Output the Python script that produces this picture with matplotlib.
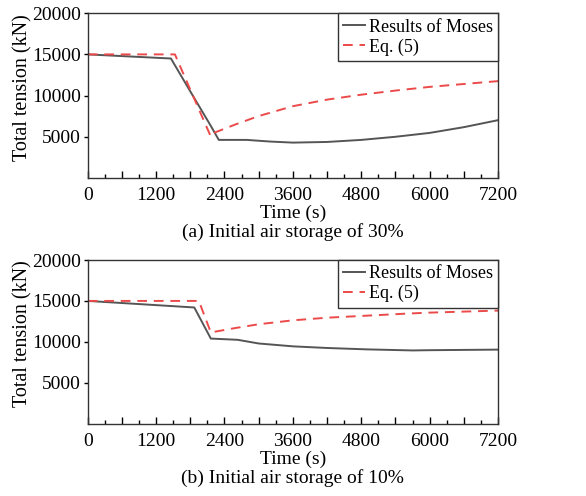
import matplotlib
matplotlib.use("Agg")
import matplotlib.pyplot as plt
from matplotlib.ticker import MultipleLocator, FuncFormatter

plt.rcParams['font.family'] = ['Liberation Serif', 'DejaVu Serif']
plt.rcParams['font.size'] = 14

# (a) initial air storage 30%
t_moses_a = [0, 1460, 1800, 2160, 2300, 2790, 3200, 3600, 4200, 4800, 5400, 6000, 6600, 7200]
f_moses_a = [15000, 14500, 10500, 6300, 4600, 4600, 4400, 4270, 4350, 4600, 4980, 5450, 6150, 7000]
t_eq_a = [0, 1530, 2160, 2230, 2600, 3000, 3600, 4200, 4800, 5400, 6000, 6600, 7200]
f_eq_a = [15000, 15000, 5000, 5500, 6500, 7500, 8700, 9500, 10100, 10600, 11050, 11400, 11750]

# (b) initial air storage 10%
t_moses_b = [0, 1870, 2160, 2630, 3000, 3600, 4200, 4900, 5700, 6000, 7200]
f_moses_b = [15000, 14200, 10400, 10250, 9800, 9450, 9250, 9080, 8950, 8980, 9050]
t_eq_b = [0, 1950, 2160, 2600, 3000, 3600, 4200, 4900, 5600, 6000, 7200]
f_eq_b = [15000, 15000, 11150, 11700, 12150, 12630, 12950, 13200, 13450, 13570, 13820]

captions = ["(a) Initial air storage of 30%", "(b) Initial air storage of 10%"]
series = [(t_moses_a, f_moses_a, t_eq_a, f_eq_a),
          (t_moses_b, f_moses_b, t_eq_b, f_eq_b)]

fig = plt.figure(figsize=(5.86, 4.96), dpi=100)
rects = [[0.1497, 0.6417, 0.7002, 0.3315], [0.1497, 0.1458, 0.7002, 0.330]]

for rect, (tm, fm, te, fe), cap in zip(rects, series, captions):
    ax = fig.add_axes(rect)
    ax.plot(tm, fm, color='#555555', lw=1.4, label='Results of Moses')
    ax.plot(te, fe, color='#ec4a4a', lw=1.4, ls=(0, (5, 3.5)), label='Eq. (5)')
    ax.set_xlim(0, 7200)
    ax.set_ylim(0, 20000)
    ax.xaxis.set_major_locator(MultipleLocator(600))
    ax.xaxis.set_minor_locator(MultipleLocator(300))
    ax.xaxis.set_major_formatter(FuncFormatter(lambda v, p: f"{int(v)}" if int(v) % 1200 == 0 else ""))
    ax.set_yticks([5000, 10000, 15000, 20000])
    ax.tick_params(axis='x', which='major', direction='in', length=5, width=1, pad=7)
    ax.tick_params(axis='x', which='minor', direction='in', length=3, width=1)
    ax.tick_params(axis='y', direction='out', length=3, width=1, pad=2)
    for s in ax.spines.values():
        s.set_color('#333333')
        s.set_linewidth(1.0)
    ax.set_xlabel('Time (s)', labelpad=0)
    ax.set_ylabel('Total tension (kN)', fontsize=14.5)
    ax.yaxis.set_label_coords(-0.135, 0.55)
    ax.text(0.5, -0.33, cap, transform=ax.transAxes, ha='center', va='center', fontsize=14)
    leg = ax.legend(loc='upper right', borderaxespad=0, handlelength=1.2, handletextpad=0.2,
                    borderpad=0.3, labelspacing=0.15, fancybox=False, framealpha=1, fontsize=13)
    leg.get_frame().set_edgecolor('#333333')
    leg.get_frame().set_linewidth(1.0)

fig.savefig('out.png', dpi=100)
